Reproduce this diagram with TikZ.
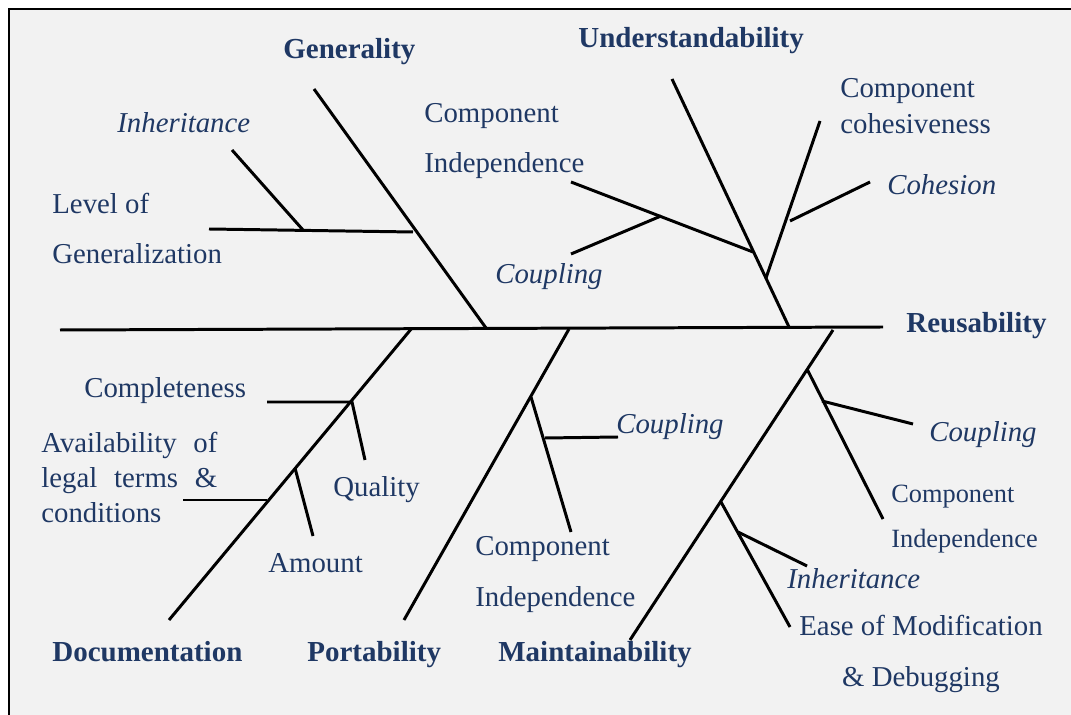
\documentclass[tikz,border=0pt]{standalone}
\usepackage{fontspec}
\setmainfont{Liberation Serif}
\usepackage{xcolor}
\usepackage{tikz}

\definecolor{navy}{RGB}{31,56,100}
\definecolor{panel}{RGB}{242,242,242}

\tikzset{
  lbl/.style={text=navy, inner sep=0pt, anchor=base west, align=left, font=\fontsize{16.4}{28.5}\selectfont},
  lblit/.style={lbl, font=\fontsize{16.4}{28.5}\selectfont\itshape},
  head/.style={lbl, font=\fontsize{16.5}{20}\selectfont\bfseries},
  bone/.style={line width=1.7pt},
}

\begin{document}
\begin{tikzpicture}[x=0.02cm, y=-0.02cm]
\useasboundingbox (0,0) rectangle (1071,715);
\fill[panel] (9,9) rectangle (1071,715);
\draw[line width=1.1pt] (9,715) -- (9,9) -- (1071,9);

% spine and main bones
\coordinate (S1) at ( 60,330);
\coordinate (S2) at (883,327);
\coordinate (G1) at (314, 89);
\coordinate (G2) at (486,328);
\coordinate (U1) at (672, 79);
\coordinate (U2) at (789,327);
\coordinate (D1) at (169,620);
\coordinate (D2) at (412,328);
\coordinate (P1) at (404,620);
\coordinate (P2) at (569,329);
\coordinate (M1) at (630,640);
\coordinate (M2) at (833,330);

% generality branches
\coordinate (GL1) at (209,229);
\coordinate (GL2) at (413,232);
\coordinate (GI1) at (232,150);
\coordinate (GI2) at (303,230);

% understandability branches
\coordinate (UI1) at (571,182);
\coordinate (UI2) at (753,252);
\coordinate (UC1) at (571,254);
\coordinate (UC2) at (661,216);
\coordinate (UK1) at (820,121);
\coordinate (UK2) at (766,278);
\coordinate (UH1) at (870,182);
\coordinate (UH2) at (790,221);

% documentation branches
\coordinate (DC1) at (267,402);
\coordinate (DC2) at (352,402);
\coordinate (DQ)  at (365,460);
\coordinate (DA1) at (183,500);
\coordinate (DA2) at (267,500);
\coordinate (DM1) at (295,468);
\coordinate (DM2) at (313,536);

% portability branches
\coordinate (PI1) at (531,397);
\coordinate (PI2) at (571,532);
\coordinate (PC1) at (545,438);
\coordinate (PC2) at (618,437);

% maintainability branches
\coordinate (MI1) at (807,369);
\coordinate (MI2) at (883,519);
\coordinate (MC1) at (822,401);
\coordinate (MC2) at (913,424);
\coordinate (ME1) at (721,502);
\coordinate (ME2) at (790,627);
\coordinate (MH1) at (738,532);
\coordinate (MH2) at (807,566);

\draw[bone] (S1) -- (S2);
\draw[bone] (G1) -- (G2);
\draw[bone] (U1) -- (U2);
\draw[bone] (D1) -- (D2);
\draw[bone] (P1) -- (P2);
\draw[bone] (M1) -- (M2);

\draw[bone] (GL1) -- (GL2);
\draw[bone] (GI1) -- (GI2);
\draw[bone] (UI1) -- (UI2);
\draw[bone] (UC1) -- (UC2);
\draw[bone] (UK1) -- (UK2);
\draw[bone] (UH1) -- (UH2);
\draw[bone] (DC1) -- (DC2) -- (DQ);
\draw[bone] (DA1) -- (DA2);
\draw[bone] (DM1) -- (DM2);
\draw[bone] (PI1) -- (PI2);
\draw[bone] (PC1) -- (PC2);
\draw[bone] (MI1) -- (MI2);
\draw[bone] (MC1) -- (MC2);
\draw[bone] (ME1) -- (ME2);
\draw[bone] (MH1) -- (MH2);

% effect and categories
\node[head] (reuse) at (906,333) {Reusability};
\node[head] (gen)   at (283, 59) {Generality};
\node[head] (und)   at (578, 48) {Understandability};
\node[head] (doc)   at ( 52,661) {Documentation};
\node[head] (port)  at (307,661) {Portability};
\node[head] (maint) at (498,661) {Maintainability};

% causes (multi-line nodes sit on their last baseline)
\node[lblit] (geninh)  at (117,133) {Inheritance};
\node[lbl]   (genlvl)  at ( 52,264) {Level of\\Generalization};
\node[lbl]   (undind)  at (424,173) {Component\\Independence};
\node[lblit] (undcpl)  at (495,284) {Coupling};
\node[lbl, font=\fontsize{16.4}{21}\selectfont] (undcoh) at (840,134) {Component\\cohesiveness};
\node[lblit] (undchs)  at (887,195) {Cohesion};
\node[lbl]   (doccmp)  at ( 84,398) {Completeness};
\node[lbl, text width=3.52cm, align=justify, font=\fontsize{16.4}{19.9}\selectfont] (docleg) at (41,453) {Availability of legal terms \& conditions};
\node[lbl]   (docqty)  at (333,497) {Quality};
\node[lbl]   (docamt)  at (268,573) {Amount};
\node[lblit] (portcpl) at (616,434) {Coupling};
\node[lbl]   (portind) at (475,606) {Component\\Independence};
\node[lblit] (maincpl) at (929,442) {Coupling};
\node[lbl, font=\fontsize{15}{26}\selectfont] (mainind) at (891,548) {Component\\Independence};
\node[lblit] (maininh) at (787,588) {Inheritance};
\node[lbl, anchor=base, align=center] (mainease) at (921,686) {Ease of Modification\\\& Debugging};
\end{tikzpicture}
\end{document}
